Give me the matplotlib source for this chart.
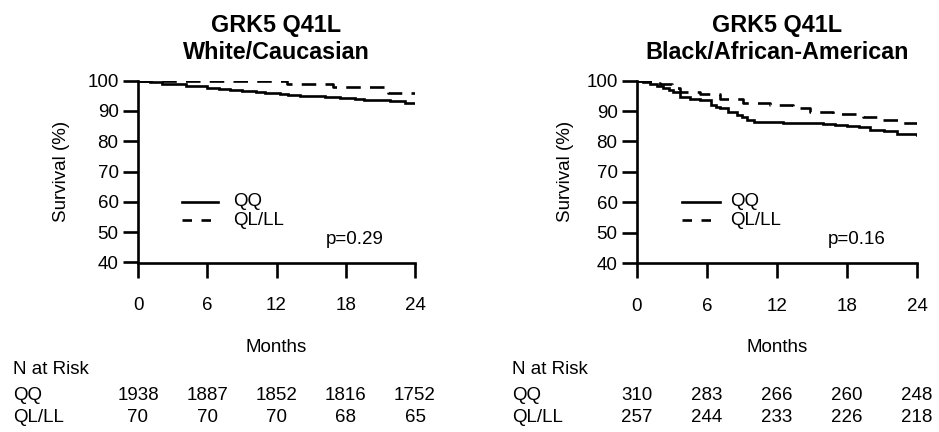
import matplotlib
matplotlib.use("Agg")
import matplotlib.pyplot as plt
import matplotlib.transforms as mtransforms

plt.rcParams['font.family'] = ['Liberation Sans', 'DejaVu Sans']

# ---- data ----
titles = ["GRK5 Q41L\nWhite/Caucasian", "GRK5 Q41L\nBlack/African-American"]
p_values = ["p=0.29", "p=0.16"]
groups = ["QQ", "QL/LL"]
risk_months = [0, 6, 12, 18, 24]
yticks = [40, 50, 60, 70, 80, 90, 100]

w_qq_t = [0, 1.0, 2.1, 3.0, 4.2, 5.0, 6.0, 7.0, 8.0, 9.0, 10.2, 11.0, 12.3,
          13.0, 14.0, 15.2, 16.2, 17.5, 18.8, 19.6, 20.5, 21.8, 23.1, 24]
w_qq_s = [100, 99.6, 99.0, 98.8, 98.4, 98.1, 97.7, 97.3, 97.0, 96.7, 96.3, 96.0, 95.7,
          95.4, 95.0, 94.8, 94.5, 94.2, 93.9, 93.7, 93.5, 93.2, 92.8, 92.8]
w_ql_t = [0, 12.9, 16.9, 21.7, 24]
w_ql_s = [100, 98.9, 97.8, 96.0, 96.0]

b_qq_t = [0, 0.5, 1.1, 1.7, 2.2, 2.7, 3.1, 3.7, 4.5, 5.4, 6.3, 6.8, 7.1, 7.8, 8.6,
          9.0, 9.4, 10.0, 12.5, 15.9, 17.0, 18.0, 19.0, 20.0, 21.2, 22.3, 24]
b_qq_s = [100, 99.5, 99.0, 98.2, 97.5, 97.0, 96.4, 94.7, 94.0, 93.6, 92.0, 91.3, 90.9,
          89.8, 88.7, 88.0, 87.2, 86.4, 86.1, 85.9, 85.4, 85.0, 84.6, 83.9, 83.4, 82.6, 82.0]
b_ql_t = [0, 1.5, 2.0, 3.0, 3.7, 5.4, 7.1, 9.1, 11.4, 13.4, 14.8, 16.8, 19.4, 21.0, 22.8, 24]
b_ql_s = [100, 99.4, 98.8, 97.6, 96.4, 95.5, 94.0, 92.8, 92.0, 90.9, 89.6, 88.9,
          87.9, 87.0, 86.0, 86.0]

w_risk_qq = [1938, 1887, 1852, 1816, 1752]
w_risk_ql = [70, 70, 70, 68, 65]
b_risk_qq = [310, 283, 266, 260, 248]
b_risk_ql = [257, 244, 233, 226, 218]

panels = [
    dict(qq=(w_qq_t, w_qq_s), ql=(w_ql_t, w_ql_s), rqq=w_risk_qq, rql=w_risk_ql),
    dict(qq=(b_qq_t, b_qq_s), ql=(b_ql_t, b_ql_s), rqq=b_risk_qq, rql=b_risk_ql),
]

W, H = 939, 432
fig = plt.figure(figsize=(W / 100, H / 100), dpi=100)

# axes pixel boxes: (left, right, top(y=100), bottom(y=40))
boxes = [(138, 415, 80.7, 262.5), (637, 917, 80.7, 263)]
leg_x = [(182, 218, 233), (682, 720, 730)]
p_x = [355, 857]
ylab_x = [62, 565]
risk_lab_x = [13, 512]

lw = 1.9
fs = 13.5

for i, (panel, box) in enumerate(zip(panels, boxes)):
    l, r, t, b = box
    ax = fig.add_axes([l / W, 1 - b / H, (r - l) / W, (b - t) / H])
    ax.step(*panel['qq'], where='post', color='black', lw=lw, solid_joinstyle='miter')
    ax.step(*panel['ql'], where='post', color='black', lw=lw, dashes=(5.5, 3.5))
    ax.set_xlim(0, 24)
    ax.set_ylim(40, 100)
    ax.set_xticks(risk_months)
    ax.set_yticks(yticks)
    ax.tick_params(direction='out', length=11, width=lw, labelsize=fs, pad=3)
    ax.tick_params(axis='x', pad=14)
    for s in ['top', 'right']:
        ax.spines[s].set_visible(False)
    for s in ['left', 'bottom']:
        ax.spines[s].set_linewidth(lw)
    ax.set_title(titles[i], fontsize=16.8, fontweight='bold', pad=15.5, linespacing=1.22)

    fx = lambda px: px / W
    fy = lambda py: 1 - py / H
    fig.text(fx(ylab_x[i]), fy((t + b) / 2), "Survival (%)", rotation=90,
             ha='center', va='center', fontsize=fs)

    # legend
    x0, x1, xt = leg_x[i]
    fig.add_artist(plt.Line2D([fx(x0), fx(x1)], [fy(202), fy(202)], color='black', lw=lw))
    fig.add_artist(plt.Line2D([fx(x0), fx(x1)], [fy(220), fy(220)], color='black', lw=lw,
                              dashes=(3.6, 3.6)))
    fig.text(fx(xt), fy(202), groups[0], ha='left', va='center', fontsize=fs)
    fig.text(fx(xt), fy(220), groups[1], ha='left', va='center', fontsize=fs)
    fig.text(fx(p_x[i]), fy(240), p_values[i], ha='center', va='center', fontsize=fs)

    # months label
    fig.text(fx((l + r) / 2), fy(348), "Months", ha='center', va='center', fontsize=fs)

    # N at risk
    tr = mtransforms.blended_transform_factory(ax.transData, fig.transFigure)
    fig.text(fx(risk_lab_x[i]), fy(370), "N at Risk", ha='left', va='center', fontsize=fs)
    fig.text(fx(risk_lab_x[i]), fy(395), groups[0], ha='left', va='center', fontsize=fs)
    fig.text(fx(risk_lab_x[i]), fy(417), groups[1], ha='left', va='center', fontsize=fs)
    for m, n1, n2 in zip(risk_months, panel['rqq'], panel['rql']):
        ax.text(m, fy(395), str(n1), transform=tr, ha='center', va='center', fontsize=fs)
        ax.text(m, fy(417), str(n2), transform=tr, ha='center', va='center', fontsize=fs)

fig.savefig("out.png", dpi=100)
